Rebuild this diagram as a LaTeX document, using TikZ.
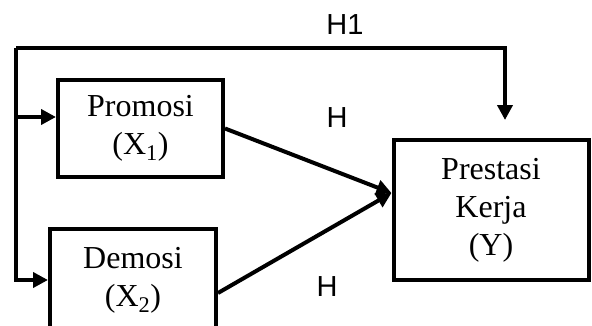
\documentclass[tikz,border=0pt]{standalone}
\usepackage{fontspec}
\setmainfont{Liberation Serif}
\setsansfont{Liberation Sans}
\usetikzlibrary{arrows.meta}

\tikzset{
  varbox/.style={shape=rectangle,draw=black,line width=4pt,inner sep=0pt,align=center,
    font=\fontsize{32}{38}\selectfont},
  hlabel/.style={inner sep=0pt,font=\sffamily\fontsize{29}{34}\selectfont},
  arrow/.style={line width=4pt,-{Triangle[length=15pt,width=15pt]}}
}

\begin{document}
\begin{tikzpicture}[x=1pt,y=1pt]
        	\useasboundingbox (0,0) rectangle (592,325);
        	
        	\node[varbox,minimum width=165pt,minimum height=97pt] (promosi) at (140.5, 196.5) {Promosi\\(X\textsubscript{1})};
        	\node[varbox,minimum width=166pt,minimum height=102pt] (demosi) at (133, 45) {Demosi\\(X\textsubscript{2})};
        	\node[varbox,minimum width=195pt,minimum height=140pt] (prestasi) at (491, 115) {Prestasi\\Kerja\\(Y)};
        	
        	\node[hlabel] (h1) at (345, 300) {H1};
        	\node[hlabel] (h2) at (337, 207) {H};
        	\node[hlabel] (h3) at (327, 38) {H};
        	
        	\coordinate (corner) at (16, 277);
        	\coordinate (tip) at (505, 205);
        	\coordinate (branch) at (16, 208);
        	\coordinate (meet) at ([yshift=17pt]prestasi.west);
        	
        	\draw[arrow] (corner) -| (tip);
        	\draw[arrow] (corner) |- (demosi.west);
        	\draw[arrow] (branch) -- (branch -| promosi.west);
        	\draw[arrow] (promosi.east) -- (meet);
        	\draw[arrow] ([yshift=-13pt]demosi.east) -- (meet);
        	
\end{tikzpicture}
\end{document}
